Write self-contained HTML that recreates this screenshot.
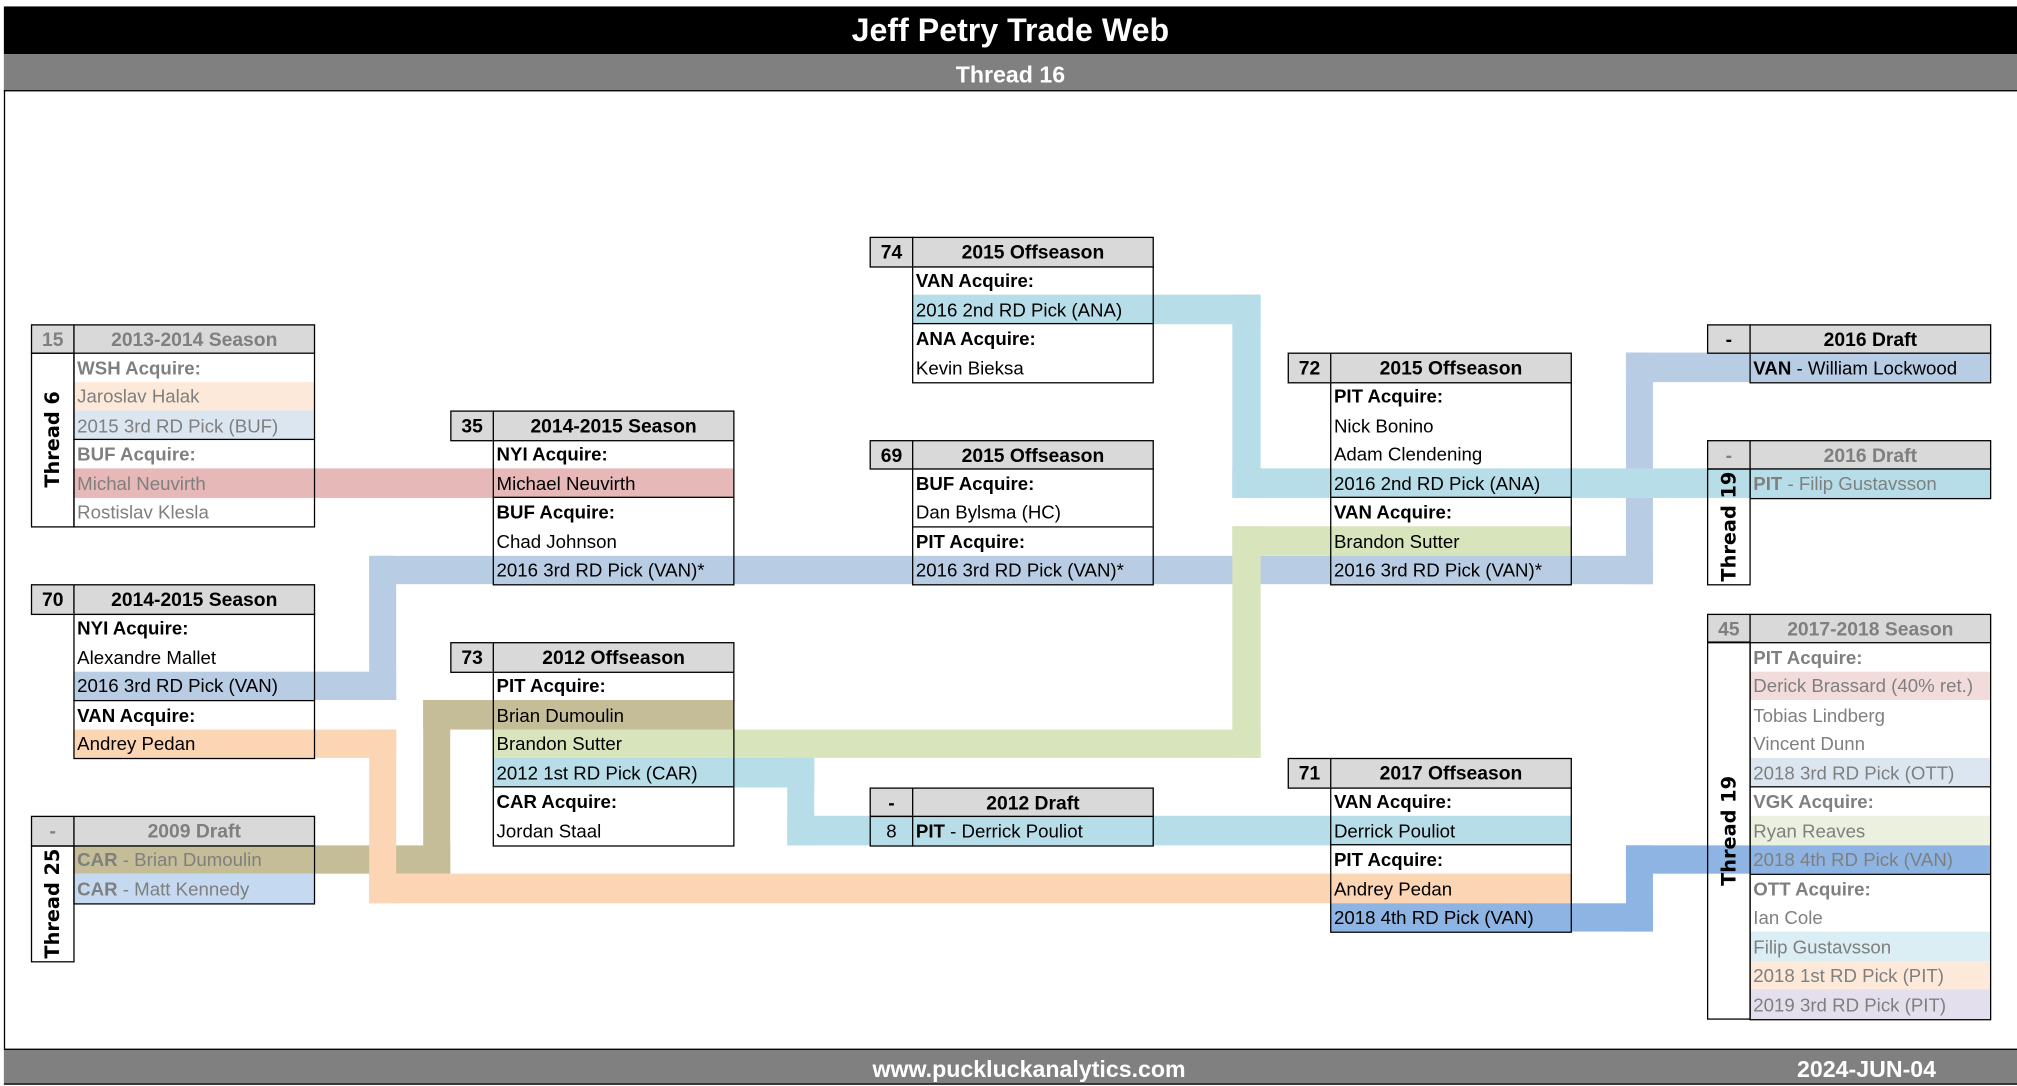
<!DOCTYPE html>
<html><head><meta charset="utf-8"><style>
html,body{margin:0;padding:0;background:#fff;width:2017px;height:1086px;overflow:hidden}
#w{position:absolute;left:0;top:0;width:1568px;height:844px;transform:scale(1.28635,1.2867);transform-origin:0 0;font-family:"Liberation Sans",sans-serif}
#w div{position:absolute;box-sizing:border-box}
.h{height:23.5px;line-height:22px;padding-top:1px;background:#d9d9d9;border:1px solid #000;font-weight:bold;font-size:15px;text-align:center}
.r{height:22.5px;line-height:22.5px;padding-top:1.5px;font-size:14.5px;padding-left:3px;white-space:nowrap;width:187px}
.k{font-weight:bold}
.f{border:1px solid #000}
.s{height:0;border-top:1px solid #000;width:187px}
.g{color:#7f7f7f}
.v{writing-mode:vertical-rl;transform:rotate(180deg);font-weight:bold;font-size:15px;font-family:"DejaVu Sans",sans-serif;display:flex;align-items:center;justify-content:center}
</style></head><body><div id="w">
<div style="left:3px;top:5px;width:1565px;height:37px;background:#000;color:#fff;font-weight:bold;font-size:25px;line-height:39px;text-align:center">Jeff Petry Trade Web</div>
<div style="left:3px;top:42px;width:1565px;height:29px;background:#808080;color:#fff;font-weight:bold;font-size:18px;line-height:32px;text-align:center;border-bottom:1px solid #000">Thread 16</div>
<div style="left:3px;top:70px;width:1px;height:745px;background:#000"></div>
<div style="left:3px;top:815px;width:1565px;height:28px;background:#808080;border-top:1px solid #000;border-bottom:1px solid #000"></div>
<div style="left:0;top:819px;width:1600px;color:#fff;font-weight:bold;font-size:18px;text-align:center;line-height:24px">www.puckluckanalytics.com</div>
<div style="left:1397px;top:819px;color:#fff;font-weight:bold;font-size:18px;line-height:24px">2024-JUN-04</div>

<div style="left:244px;top:364px;width:139px;height:22.5px;background:#e6b8b7"></div>
<div style="left:287px;top:431.5px;width:998px;height:22.5px;background:#b8cce4"></div>
<div style="left:287px;top:431.5px;width:21px;height:112.5px;background:#b8cce4"></div>
<div style="left:244px;top:521.5px;width:64px;height:22.5px;background:#b8cce4"></div>
<div style="left:1264px;top:274px;width:21px;height:180px;background:#b8cce4"></div>
<div style="left:1264px;top:274px;width:96px;height:22.5px;background:#b8cce4"></div>
<div style="left:896px;top:229px;width:84px;height:22.5px;background:#b7dee8"></div>
<div style="left:958px;top:229px;width:22px;height:157.5px;background:#b7dee8"></div>
<div style="left:958px;top:364px;width:402px;height:22.5px;background:#b7dee8"></div>
<div style="left:958px;top:409px;width:76px;height:22.5px;background:#d8e4bc"></div>
<div style="left:958px;top:409px;width:22px;height:180px;background:#d8e4bc"></div>
<div style="left:570px;top:566.5px;width:410px;height:22.5px;background:#d8e4bc"></div>
<div style="left:570px;top:589px;width:63px;height:22.5px;background:#b7dee8"></div>
<div style="left:612px;top:589px;width:21px;height:67.5px;background:#b7dee8"></div>
<div style="left:612px;top:634px;width:422px;height:22.5px;background:#b7dee8"></div>
<div style="left:329px;top:544px;width:54px;height:22.5px;background:#c4bd97"></div>
<div style="left:329px;top:544px;width:21px;height:135px;background:#c4bd97"></div>
<div style="left:244px;top:656.5px;width:106px;height:22.5px;background:#c4bd97"></div>
<div style="left:244px;top:566.5px;width:64px;height:22.5px;background:#fcd5b4"></div>
<div style="left:287px;top:566.5px;width:21px;height:135px;background:#fcd5b4"></div>
<div style="left:287px;top:679px;width:747px;height:22.5px;background:#fcd5b4"></div>
<div style="left:1221px;top:701.5px;width:64px;height:22.5px;background:#8db4e2"></div>
<div style="left:1264px;top:656.5px;width:21px;height:67.5px;background:#8db4e2"></div>
<div style="left:1264px;top:656.5px;width:96px;height:22.5px;background:#8db4e2"></div>

<div class="h g" style="left:24px;top:251.5px;width:34px">15</div>
<div class="h g" style="left:57px;top:251.5px;width:188px">2013-2014 Season</div>
<div class="r k g" style="left:57px;top:274px;background:#fff">WSH Acquire:</div>
<div class="r g" style="left:57px;top:296.5px;background:#fde9d9">Jaroslav Halak</div>
<div class="r g" style="left:57px;top:319px;background:#dce6f1">2015 3rd RD Pick (BUF)</div>
<div class="r k g" style="left:57px;top:341.5px;background:#fff">BUF Acquire:</div>
<div class="r g" style="left:57px;top:364px;background:#e6b8b7">Michal Neuvirth</div>
<div class="r g" style="left:57px;top:386.5px;background:#fff">Rostislav Klesla</div>
<div class="s" style="left:57px;top:341px"></div>
<div class="f" style="left:57px;top:274px;width:188px;height:136px"></div>
<div class="f v" style="left:24px;top:274px;width:34px;height:136px">Thread 6</div>

<div class="h" style="left:350px;top:319px;width:34px">35</div>
<div class="h" style="left:383px;top:319px;width:188px">2014-2015 Season</div>
<div class="r k" style="left:383px;top:341.5px;background:#fff">NYI Acquire:</div>
<div class="r" style="left:383px;top:364px;background:#e6b8b7">Michael Neuvirth</div>
<div class="r k" style="left:383px;top:386.5px;background:#fff">BUF Acquire:</div>
<div class="r" style="left:383px;top:409px;background:#fff">Chad Johnson</div>
<div class="r" style="left:383px;top:431.5px;background:#b8cce4">2016 3rd RD Pick (VAN)*</div>
<div class="s" style="left:383px;top:386px"></div>
<div class="f" style="left:383px;top:341.5px;width:188px;height:113.5px"></div>

<div class="h" style="left:676px;top:184px;width:34px">74</div>
<div class="h" style="left:709px;top:184px;width:188px">2015 Offseason</div>
<div class="r k" style="left:709px;top:206.5px;background:#fff">VAN Acquire:</div>
<div class="r" style="left:709px;top:229px;background:#b7dee8">2016 2nd RD Pick (ANA)</div>
<div class="r k" style="left:709px;top:251.5px;background:#fff">ANA Acquire:</div>
<div class="r" style="left:709px;top:274px;background:#fff">Kevin Bieksa</div>
<div class="s" style="left:709px;top:251px"></div>
<div class="f" style="left:709px;top:206.5px;width:188px;height:91px"></div>

<div class="h" style="left:676px;top:341.5px;width:34px">69</div>
<div class="h" style="left:709px;top:341.5px;width:188px">2015 Offseason</div>
<div class="r k" style="left:709px;top:364px;background:#fff">BUF Acquire:</div>
<div class="r" style="left:709px;top:386.5px;background:#fff">Dan Bylsma (HC)</div>
<div class="r k" style="left:709px;top:409px;background:#fff">PIT Acquire:</div>
<div class="r" style="left:709px;top:431.5px;background:#b8cce4">2016 3rd RD Pick (VAN)*</div>
<div class="s" style="left:709px;top:408.5px"></div>
<div class="f" style="left:709px;top:364px;width:188px;height:91px"></div>

<div class="h" style="left:1001px;top:274px;width:34px">72</div>
<div class="h" style="left:1034px;top:274px;width:188px">2015 Offseason</div>
<div class="r k" style="left:1034px;top:296.5px;background:#fff">PIT Acquire:</div>
<div class="r" style="left:1034px;top:319px;background:#fff">Nick Bonino</div>
<div class="r" style="left:1034px;top:341.5px;background:#fff">Adam Clendening</div>
<div class="r" style="left:1034px;top:364px;background:#b7dee8">2016 2nd RD Pick (ANA)</div>
<div class="r k" style="left:1034px;top:386.5px;background:#fff">VAN Acquire:</div>
<div class="r" style="left:1034px;top:409px;background:#d8e4bc">Brandon Sutter</div>
<div class="r" style="left:1034px;top:431.5px;background:#b8cce4">2016 3rd RD Pick (VAN)*</div>
<div class="s" style="left:1034px;top:386px"></div>
<div class="f" style="left:1034px;top:296.5px;width:188px;height:158.5px"></div>

<div class="h" style="left:24px;top:454px;width:34px">70</div>
<div class="h" style="left:57px;top:454px;width:188px">2014-2015 Season</div>
<div class="r k" style="left:57px;top:476.5px;background:#fff">NYI Acquire:</div>
<div class="r" style="left:57px;top:499px;background:#fff">Alexandre Mallet</div>
<div class="r" style="left:57px;top:521.5px;background:#b8cce4">2016 3rd RD Pick (VAN)</div>
<div class="r k" style="left:57px;top:544px;background:#fff">VAN Acquire:</div>
<div class="r" style="left:57px;top:566.5px;background:#fcd5b4">Andrey Pedan</div>
<div class="s" style="left:57px;top:543.5px"></div>
<div class="f" style="left:57px;top:476.5px;width:188px;height:113.5px"></div>

<div class="h" style="left:350px;top:499px;width:34px">73</div>
<div class="h" style="left:383px;top:499px;width:188px">2012 Offseason</div>
<div class="r k" style="left:383px;top:521.5px;background:#fff">PIT Acquire:</div>
<div class="r" style="left:383px;top:544px;background:#c4bd97">Brian Dumoulin</div>
<div class="r" style="left:383px;top:566.5px;background:#d8e4bc">Brandon Sutter</div>
<div class="r" style="left:383px;top:589px;background:#b7dee8">2012 1st RD Pick (CAR)</div>
<div class="r k" style="left:383px;top:611.5px;background:#fff">CAR Acquire:</div>
<div class="r" style="left:383px;top:634px;background:#fff">Jordan Staal</div>
<div class="s" style="left:383px;top:611px"></div>
<div class="f" style="left:383px;top:521.5px;width:188px;height:136px"></div>

<div class="h" style="left:676px;top:611.5px;width:34px">-</div>
<div class="h" style="left:709px;top:611.5px;width:188px">2012 Draft</div>
<div class="f" style="left:676px;top:634px;width:34px;height:23.5px;font-size:14.5px;line-height:21.5px;padding-top:1.5px;text-align:center">8</div>
<div class="r" style="left:709px;top:634px;background:#b7dee8"><b>PIT</b> - Derrick Pouliot</div>
<div class="f" style="left:709px;top:634px;width:188px;height:23.5px"></div>

<div class="h" style="left:1001px;top:589px;width:34px">71</div>
<div class="h" style="left:1034px;top:589px;width:188px">2017 Offseason</div>
<div class="r k" style="left:1034px;top:611.5px;background:#fff">VAN Acquire:</div>
<div class="r" style="left:1034px;top:634px;background:#b7dee8">Derrick Pouliot</div>
<div class="r k" style="left:1034px;top:656.5px;background:#fff">PIT Acquire:</div>
<div class="r" style="left:1034px;top:679px;background:#fcd5b4">Andrey Pedan</div>
<div class="r" style="left:1034px;top:701.5px;background:#8db4e2">2018 4th RD Pick (VAN)</div>
<div class="s" style="left:1034px;top:656px"></div>
<div class="f" style="left:1034px;top:611.5px;width:188px;height:113.5px"></div>

<div class="h g" style="left:24px;top:634px;width:34px">-</div>
<div class="h g" style="left:57px;top:634px;width:188px">2009 Draft</div>
<div class="r g" style="left:57px;top:656.5px;background:#c4bd97"><b>CAR</b> - Brian Dumoulin</div>
<div class="r g" style="left:57px;top:679px;background:#c5d9f1"><b>CAR</b> - Matt Kennedy</div>
<div class="f" style="left:57px;top:656.5px;width:188px;height:46px"></div>
<div class="f v" style="left:24px;top:656.5px;width:34px;height:91px">Thread 25</div>

<div class="h" style="left:1327px;top:251.5px;width:34px">-</div>
<div class="h" style="left:1360px;top:251.5px;width:188px">2016 Draft</div>
<div class="r" style="left:1360px;top:274px;background:#b8cce4"><b>VAN</b> - William Lockwood</div>
<div class="f" style="left:1360px;top:274px;width:188px;height:23.5px"></div>

<div class="h g" style="left:1327px;top:341.5px;width:34px">-</div>
<div class="h g" style="left:1360px;top:341.5px;width:188px">2016 Draft</div>
<div class="r g" style="left:1360px;top:364px;background:#b7dee8"><b>PIT</b> - Filip Gustavsson</div>
<div class="f" style="left:1360px;top:364px;width:188px;height:23.5px"></div>
<div class="f v" style="left:1327px;top:364px;width:34px;height:91px">Thread 19</div>

<div class="h g" style="left:1327px;top:476.5px;width:34px">45</div>
<div class="h g" style="left:1360px;top:476.5px;width:188px">2017-2018 Season</div>
<div class="r k g" style="left:1360px;top:499px;background:#fff">PIT Acquire:</div>
<div class="r g" style="left:1360px;top:521.5px;background:#f2dcdb">Derick Brassard (40% ret.)</div>
<div class="r g" style="left:1360px;top:544px;background:#fff">Tobias Lindberg</div>
<div class="r g" style="left:1360px;top:566.5px;background:#fff">Vincent Dunn</div>
<div class="r g" style="left:1360px;top:589px;background:#dce6f1">2018 3rd RD Pick (OTT)</div>
<div class="r k g" style="left:1360px;top:611.5px;background:#fff">VGK Acquire:</div>
<div class="r g" style="left:1360px;top:634px;background:#ebf1de">Ryan Reaves</div>
<div class="r g" style="left:1360px;top:656.5px;background:#8db4e2">2018 4th RD Pick (VAN)</div>
<div class="r k g" style="left:1360px;top:679px;background:#fff">OTT Acquire:</div>
<div class="r g" style="left:1360px;top:701.5px;background:#fff">Ian Cole</div>
<div class="r g" style="left:1360px;top:724px;background:#daeef3">Filip Gustavsson</div>
<div class="r g" style="left:1360px;top:746.5px;background:#fde9d9">2018 1st RD Pick (PIT)</div>
<div class="r g" style="left:1360px;top:769px;background:#e4dfec">2019 3rd RD Pick (PIT)</div>
<div class="s" style="left:1360px;top:611px"></div>
<div class="s" style="left:1360px;top:678.5px"></div>
<div class="f" style="left:1360px;top:499px;width:188px;height:293.5px"></div>
<div class="f v" style="left:1327px;top:499px;width:34px;height:293.5px">Thread 19</div>
</div></body></html>
